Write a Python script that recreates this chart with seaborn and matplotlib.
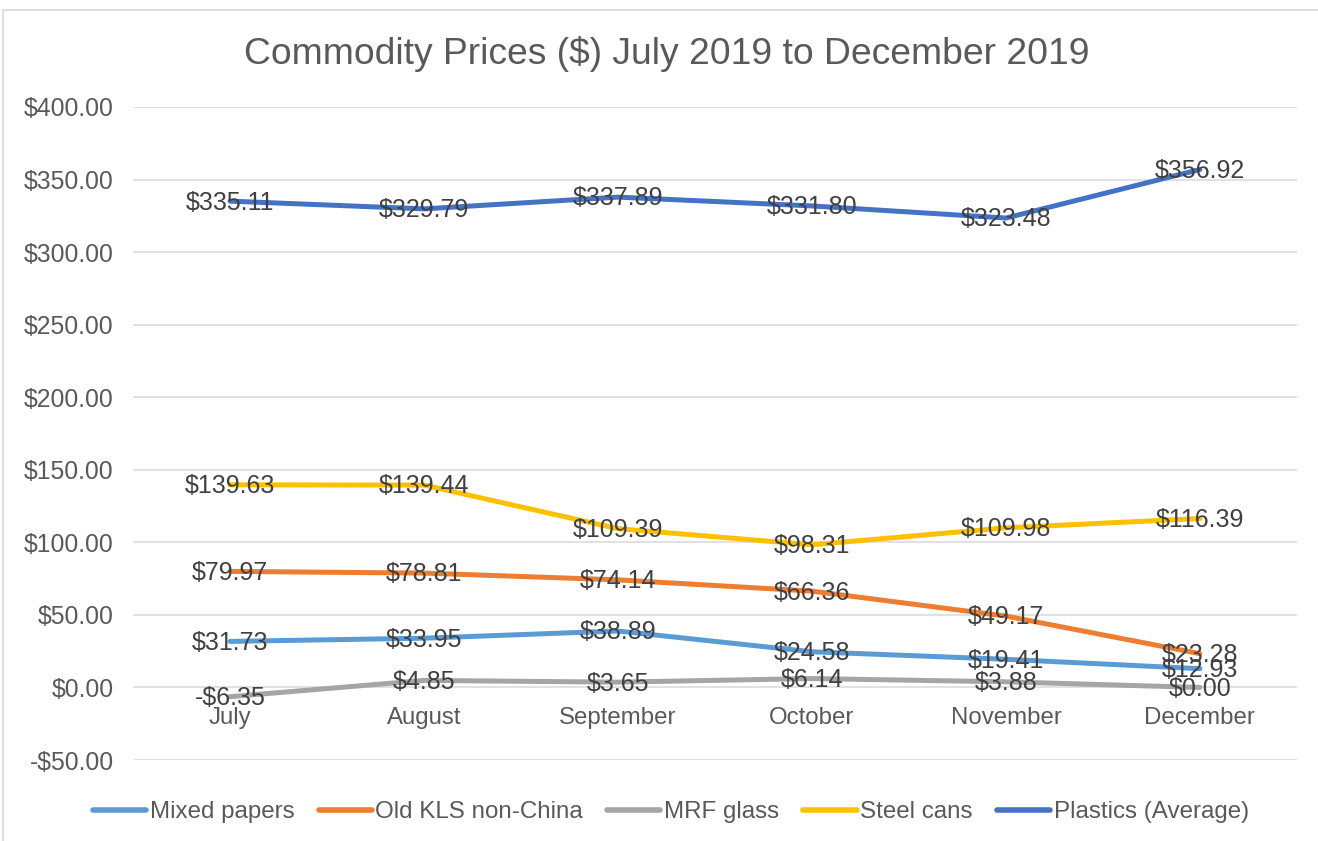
import matplotlib.pyplot as plt
import matplotlib.patches as mpatches
import pandas as pd
import seaborn as sns

months = ["July", "August", "September", "October", "November", "December"]
series_names = ["Mixed papers", "Old KLS non-China", "MRF glass", "Steel cans", "Plastics (Average)"]
mixed_papers = [31.73, 33.95, 38.89, 24.58, 19.41, 12.93]
old_kls = [79.97, 78.81, 74.14, 66.36, 49.17, 23.28]
mrf_glass = [-6.35, 4.85, 3.65, 6.14, 3.88, 0.00]
steel_cans = [139.63, 139.44, 109.39, 98.31, 109.98, 116.39]
plastics = [335.11, 329.79, 337.89, 331.80, 323.48, 356.92]
colors = ["#5B9BD5", "#ED7D31", "#A5A5A5", "#FFC000", "#4472C4"]
y_ticks = [-50, 0, 50, 100, 150, 200, 250, 300, 350, 400]

values = [mixed_papers, old_kls, mrf_glass, steel_cans, plastics]
rows = []
for name, vals in zip(series_names, values):
    for i, v in enumerate(vals):
        rows.append({"series": name, "pos": i, "price": v})
df = pd.DataFrame(rows)


def money(v):
    if v < 0:
        return "-${:,.2f}".format(-v)
    return "${:,.2f}".format(v)


sns.set_theme(style="white")
plt.rcParams["font.family"] = ["Liberation Sans", "DejaVu Sans"]

fig = plt.figure(figsize=(13.18, 8.41), dpi=100)
fig.set_facecolor("white")
ax = fig.add_axes([0.101, 0.0963, 0.883, 0.7765])

sns.lineplot(data=df, x="pos", y="price", hue="series", hue_order=series_names,
             palette=colors, linewidth=3.6, ax=ax, sort=False, estimator=None,
             solid_capstyle="round")

ax.set_xlim(-0.5, len(months) - 0.5)
ax.set_ylim(-50, 400)
ax.set_yticks(y_ticks)
ax.set_yticklabels([money(t) for t in y_ticks], fontsize=17.8, color="#595959")
ax.set_xticks([])
ax.set_xlabel("")
ax.set_ylabel("")
ax.tick_params(axis="y", length=0, pad=14)
ax.grid(axis="y", color="#D9D9D9", linewidth=1.1)
ax.set_axisbelow(True)
for s in ax.spines.values():
    s.set_visible(False)

# category labels sit under the zero line, like the original
for i, m in enumerate(months):
    ax.annotate(m, (i, 0), xytext=(0, -22), textcoords="offset points",
                ha="center", va="center", fontsize=17.3, color="#595959")

# data labels centered on points
for vals in values:
    for i, v in enumerate(vals):
        ax.annotate(money(v), (i, v), xytext=(0, -1), textcoords="offset points",
                    ha="center", va="center", fontsize=18, color="#404040", zorder=5)

fig.text(0.506, 0.936, "Commodity Prices ($) July 2019 to December 2019",
         ha="center", va="center", fontsize=26.8, color="#595959")

leg = ax.legend(loc="center", bbox_to_anchor=(0.509, 0.0345), bbox_transform=fig.transFigure,
                ncol=5, frameon=False, fontsize=17.4, handlelength=2.2,
                handletextpad=0.15, columnspacing=1.0, labelcolor="#595959")
for line in leg.get_lines():
    line.set_linewidth(4)

# light border of the chart area
fig.patches.append(mpatches.Rectangle((3 / 1318, -0.1), 1.2, 1 - 10 / 841 + 0.1,
                                      transform=fig.transFigure, fill=False,
                                      edgecolor="#D9D9D9", linewidth=1.2))

fig.savefig("out.png", dpi=100, facecolor="white")
